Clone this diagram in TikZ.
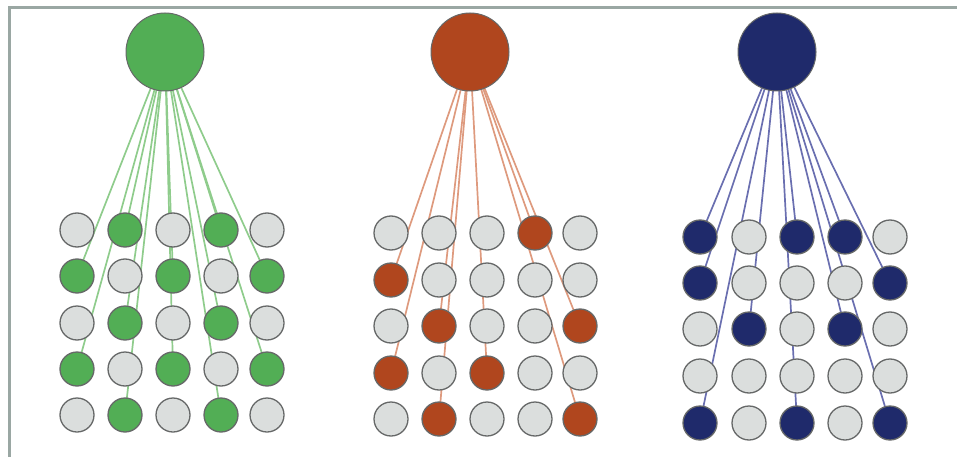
\documentclass[tikz,border=0pt]{standalone}
\usetikzlibrary{backgrounds}

\definecolor{framegray}{HTML}{9AA7A3}
\definecolor{ringgray}{HTML}{666868}
\definecolor{idlegray}{HTML}{DBDEDD}
\definecolor{greenfill}{HTML}{52AE55}
\definecolor{greenlink}{HTML}{8FCC8C}
\definecolor{rustfill}{HTML}{B0461E}
\definecolor{rustlink}{HTML}{DE9A7E}
\definecolor{navyfill}{HTML}{1F2A6B}
\definecolor{navylink}{HTML}{6A6FB0}

% One panel: hub on top, 5x5 grid of units below, links to the active units.
% #1 prefix, #2 active fill, #3 link colour, #4 hub x, #5 column x list,
% #6 rows as  index/y/five 0-1 flags
\newcommand\drawpanel[6]{%
  \node[hub,fill=#2] (#1-hub) at (#4,52) {};
  \foreach \r/\yy/\pa/\pb/\pc/\pd/\pe in {#6}{%
    \foreach \v [count=\c] in {\pa,\pb,\pc,\pd,\pe}{%
      \pgfmathsetmacro\xx{{#5}[\c-1]}%
      \ifnum\v=1
        \node[unit,fill=#2] (#1-\r-\c) at (\xx,\yy) {};
        \begin{pgfonlayer}{background}
          \draw[link,#3] (#1-hub.center) -- (#1-\r-\c.center);
        \end{pgfonlayer}
      \else
        \node[unit] (#1-\r-\c) at (\xx,\yy) {};
      \fi
    }%
  }%
}

\begin{document}
\begin{tikzpicture}[x=1pt,y=-1pt,
  hub/.style={circle,minimum size=78pt,inner sep=0pt,draw=ringgray,line width=1pt},
  unit/.style={circle,minimum size=34pt,inner sep=0pt,draw=ringgray,line width=1.3pt,fill=idlegray},
  link/.style={line width=1.7pt}]
\useasboundingbox (0,0) rectangle (957,457);
\draw[framegray,line width=3pt] (957,8) -- (9,8) -- (9,457);

% green: checkerboard
\drawpanel{g}{greenfill}{greenlink}{165}{77,125,173,221,267}{%
  1/230/0/1/0/1/0, 2/276/1/0/1/0/1, 3/323/0/1/0/1/0,
  4/369/1/0/1/0/1, 5/415/0/1/0/1/0}

% rust: sparse pattern
\drawpanel{o}{rustfill}{rustlink}{470}{391,439,487,535,580}{%
  1/233/0/0/0/1/0, 2/280/1/0/0/0/0, 3/326/0/1/0/0/1,
  4/373/1/0/1/0/0, 5/419/0/1/0/0/1}

% navy
\drawpanel{b}{navyfill}{navylink}{777}{700,749,797,845,890}{%
  1/237/1/0/1/1/0, 2/283/1/0/0/0/1, 3/329/0/1/0/1/0,
  4/376/0/0/0/0/0, 5/423/1/0/1/0/1}
\end{tikzpicture}
\end{document}
